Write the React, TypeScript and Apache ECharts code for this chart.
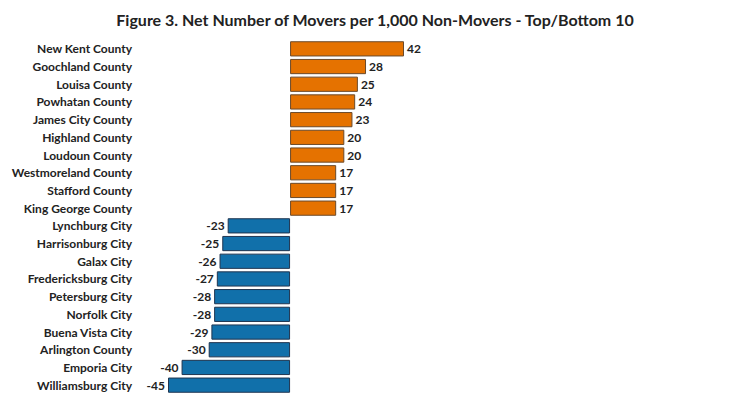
import React, { useEffect, useRef } from "react";
import * as echarts from "echarts";

const categories = [
  "New Kent County", "Goochland County", "Louisa County", "Powhatan County", "James City County",
  "Highland County", "Loudoun County", "Westmoreland County", "Stafford County", "King George County",
  "Lynchburg City", "Harrisonburg City", "Galax City", "Fredericksburg City", "Petersburg City",
  "Norfolk City", "Buena Vista City", "Arlington County", "Emporia City", "Williamsburg City",
];
const values = [42, 28, 25, 24, 23, 20, 20, 17, 17, 17, -23, -25, -26, -27, -28, -28, -29, -30, -40, -45];
const titleText = "Figure 3. Net Number of Movers per 1,000 Non-Movers - Top/Bottom 10";

const POS = "#e57200";
const NEG = "#1170aa";
const FONT = "Lato, 'Open Sans', sans-serif";

export default function App() {
  const ref = useRef<HTMLDivElement>(null);
  useEffect(() => {
    if (!ref.current) return;
    const chart = echarts.init(ref.current, undefined, { renderer: "svg" });
    chart.setOption({
      animation: false,
      backgroundColor: "#ffffff",
      title: {
        text: titleText,
        left: "center",
        top: 6,
        textStyle: { fontFamily: FONT, fontSize: 16, fontWeight: "bold", color: "#222" },
      },
      grid: { left: 168, width: 236, top: 40, bottom: 6, containLabel: false },
      xAxis: {
        type: "value",
        min: -45,
        max: 42,
        show: false,
      },
      yAxis: {
        type: "category",
        data: categories,
        inverse: true,
        axisLine: { show: false },
        axisTick: { show: false },
        splitLine: { show: false },
        axisLabel: {
          margin: 36,
          fontFamily: FONT,
          fontSize: 12,
          fontWeight: "bold",
          color: "#222",
        },
      },
      series: [
        {
          type: "bar",
          barCategoryGap: "14%",
          data: values.map((v) => ({
            value: v,
            itemStyle: {
              color: v >= 0 ? POS : NEG,
              borderColor: v >= 0 ? "#6b4a2a" : "#1f3550",
              borderWidth: 1,
            },
            label: {
              show: true,
              position: v >= 0 ? "right" : "left",
              distance: 3,
              fontFamily: FONT,
              fontSize: 12,
              fontWeight: "bold",
              color: "#222",
            },
          })),
        },
      ],
    });
    return () => chart.dispose();
  }, []);
  return (
    <div
      ref={ref}
      style={{ position: "fixed", left: 0, top: 0, width: 750, height: 400 }}
    />
  );
}
